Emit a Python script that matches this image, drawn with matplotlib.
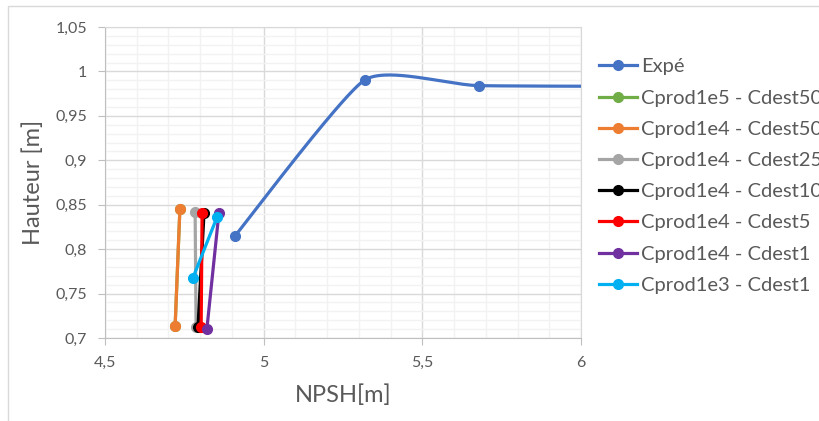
import numpy as np
import matplotlib.pyplot as plt
from matplotlib.ticker import MultipleLocator, FuncFormatter
from matplotlib.patches import Rectangle

plt.rcParams['font.family'] = ['Lato', 'DejaVu Sans']

# experimental curve (last point lies beyond the x range)
expe_x = [4.910, 5.319, 5.679, 6.40]
expe_y = [0.815, 0.9905, 0.984, 0.983]

series_names = ["Cprod1e5 - Cdest50", "Cprod1e4 - Cdest50", "Cprod1e4 - Cdest25",
                "Cprod1e4 - Cdest10", "Cprod1e4 - Cdest5", "Cprod1e4 - Cdest1",
                "Cprod1e3 - Cdest1"]
series_x = [[4.721, 4.736], [4.721, 4.736], [4.787, 4.784], [4.793, 4.812],
            [4.803, 4.806], [4.821, 4.859], [4.777, 4.853]]
series_y = [[0.7135, 0.845], [0.7135, 0.845], [0.712, 0.842], [0.712, 0.8408],
            [0.712, 0.8408], [0.710, 0.8408], [0.7676, 0.836]]
series_colors = ["#70AD47", "#ED7D31", "#A5A5A5", "#000000", "#FF0000", "#7030A0", "#00B0F0"]

txt = "#595959"


def smooth(xs, ys, k=0.09, sx=635.0, sy=888.0, n=60):
    # Excel-like smoothed line: cubic Bezier with Catmull-Rom style tangents
    P = np.column_stack([np.array(xs) * sx, np.array(ys) * sy])
    out = []
    for i in range(len(P) - 1):
        p0 = P[i - 1] if i > 0 else P[i]
        p3 = P[i + 2] if i + 2 < len(P) else P[i + 1]
        c1 = P[i] + (P[i + 1] - p0) * k
        c2 = P[i + 1] - (p3 - P[i]) * k
        t = np.linspace(0, 1, n)[:, None]
        seg = ((1 - t) ** 3 * P[i] + 3 * (1 - t) ** 2 * t * c1
               + 3 * (1 - t) * t ** 2 * c2 + t ** 3 * P[i + 1])
        out.append(seg)
    out = np.vstack(out)
    return out[:, 0] / sx, out[:, 1] / sy


fig = plt.figure(figsize=(8.2, 4.21), dpi=100)
ax = fig.add_axes([105 / 820, 1 - 338 / 421, (581 - 105) / 820, (338 - 27) / 421])

fig.patches.append(Rectangle((8 / 820, -0.01), 1.1, 1 - 6 / 421 + 0.01, transform=fig.transFigure,
                             fill=False, edgecolor="#D9D9D9", linewidth=1))

sx, sy = smooth(expe_x, expe_y)
ax.plot(sx, sy, color="#4472C4", lw=2.3, zorder=3)
ax.plot(expe_x, expe_y, 'o', color="#4472C4", ms=7, zorder=4)
ax.plot([], [], '-o', color="#4472C4", lw=2.3, ms=7, label="Expé")

for name, xs, ys, c in zip(series_names, series_x, series_y, series_colors):
    ax.plot(xs, ys, '-o', color=c, lw=2.3, ms=7, label=name, zorder=3)

ax.set_xlim(4.5, 6)
ax.set_ylim(0.7, 1.05)
ax.xaxis.set_major_locator(MultipleLocator(0.5))
ax.xaxis.set_minor_locator(MultipleLocator(0.1))
ax.yaxis.set_major_locator(MultipleLocator(0.05))
ax.yaxis.set_minor_locator(MultipleLocator(0.01))
fmt = FuncFormatter(lambda v, p: f"{v:.2f}".rstrip('0').rstrip('.').replace('.', ','))
ax.xaxis.set_major_formatter(fmt)
ax.yaxis.set_major_formatter(fmt)

ax.grid(which='major', color="#D9D9D9", lw=1)
ax.grid(which='minor', color="#F2F2F2", lw=1)
ax.set_axisbelow(True)
for s in ax.spines.values():
    s.set_color("#D9D9D9")
ax.spines['left'].set_color("#BFBFBF")
ax.spines['bottom'].set_color("#BFBFBF")
ax.tick_params(which='major', length=5, color="#BFBFBF", labelcolor=txt, labelsize=11.5, pad=8)
ax.tick_params(which='minor', length=0)

ax.set_xlabel("NPSH[m]", fontsize=17, color=txt, labelpad=10)
ax.set_ylabel("Hauteur [m]", fontsize=17, color=txt, labelpad=8)

# legend runs past the right edge of the figure, as in the source chart
ax.legend(loc='upper left', bbox_to_anchor=(1.02, 0.925), frameon=False, fontsize=14.5,
          labelcolor=txt, handlelength=1.9, handletextpad=0.2, labelspacing=0.70,
          borderaxespad=0)

fig.savefig("out.png", dpi=100)
